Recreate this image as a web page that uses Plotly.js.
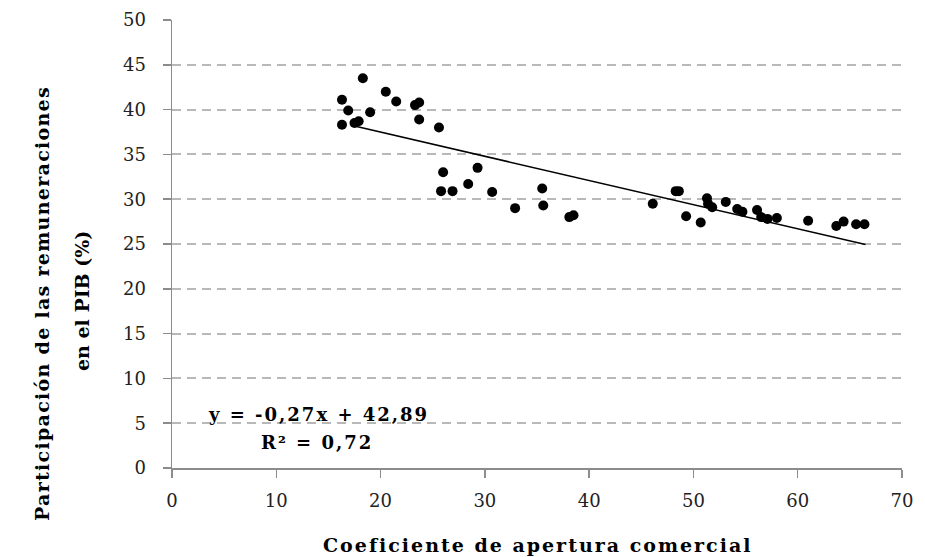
<!DOCTYPE html>
<html>
<head>
<meta charset="utf-8">
<script src="https://cdn.plot.ly/plotly-3.0.1.min.js"></script>
<style>
html,body{margin:0;padding:0;background:#fff;}
#chart{width:925px;height:557px;}
</style>
</head>
<body>
<div id="chart"></div>
<script>
// Data
const apertura = [16.3,16.9,16.3,17.5,17.9,18.3,19.0,20.5,21.5,23.3,23.7,23.7,25.6,26.0,25.8,26.9,28.4,29.3,30.7,32.9,35.5,35.6,38.1,38.5,46.1,48.3,48.6,49.3,50.7,51.3,51.4,51.8,53.1,54.2,54.7,56.1,56.5,57.1,58.0,61.0,63.7,64.4,65.6,66.4];
const remuneraciones = [41.1,39.9,38.3,38.5,38.7,43.5,39.7,42.0,40.9,40.5,40.8,38.9,38.0,33.0,30.9,30.9,31.7,33.5,30.8,29.0,31.2,29.3,28.0,28.2,29.5,30.9,30.9,28.1,27.4,30.1,29.5,29.1,29.7,28.9,28.6,28.8,28.0,27.8,27.9,27.6,27.0,27.5,27.2,27.2];
const trendSlope = -0.27;
const trendIntercept = 42.89;
const trendRange = [17.5, 66.5];
const xTicks = [0,10,20,30,40,50,60,70];
const yTicks = [0,5,10,15,20,25,30,35,40,45,50];
const eqText = "y = -0,27x + 42,89";
const r2Text = "R² = 0,72";
const xTitle = "Coeficiente de apertura comercial";
const yTitle1 = "Participación de las remuneraciones";
const yTitle2 = "en el PIB (%)";

const trendY = trendRange.map(x => trendSlope * x + trendIntercept);

const SERIF = "DejaVu Serif, Liberation Serif, serif";
const spaced = (t, px) => '<span style="letter-spacing:' + px + 'px">' + t + '</span>';

const traces = [
  {
    x: trendRange, y: trendY, type: 'scatter', mode: 'lines',
    line: {color: '#000', width: 1.5}, hoverinfo: 'skip', showlegend: false
  },
  {
    x: apertura, y: remuneraciones, type: 'scatter', mode: 'markers',
    marker: {color: '#000', size: 10}, showlegend: false
  }
];

const layout = {
  width: 925, height: 557,
  margin: {l: 172, r: 23, t: 20, b: 89},
  paper_bgcolor: '#fff', plot_bgcolor: '#fff',
  showlegend: false,
  xaxis: {
    range: [0, 70], tickvals: xTicks, ticktext: xTicks.map(String),
    showgrid: false, zeroline: false,
    showline: true, linecolor: '#8c8c8c', linewidth: 1.5,
    ticks: 'outside', ticklen: 8, tickcolor: '#8c8c8c', tickwidth: 1.5,
    ticklabelstandoff: 8,
    tickfont: {family: SERIF, size: 18, color: '#222'}
  },
  yaxis: {
    range: [0, 50], tickvals: yTicks, ticktext: yTicks.map(String),
    showgrid: true, gridcolor: '#b8b8b8', gridwidth: 2, griddash: '9px,6px',
    zeroline: false,
    showline: true, linecolor: '#8c8c8c', linewidth: 1.5,
    ticks: 'outside', ticklen: 8, tickcolor: '#8c8c8c', tickwidth: 1.5,
    ticklabelstandoff: 13,
    tickfont: {family: SERIF, size: 18, color: '#222'}
  },
  annotations: [
    {text: spaced(eqText, 2), xref: 'x', yref: 'y', x: 14.0, y: 6.0, showarrow: false,
     xanchor: 'center', yanchor: 'middle',
     font: {family: SERIF, size: 18, color: '#000', weight: 'bold'}},
    {text: spaced(r2Text, 2), xref: 'x', yref: 'y', x: 13.9, y: 2.8, showarrow: false,
     xanchor: 'center', yanchor: 'middle',
     font: {family: SERIF, size: 18, color: '#000', weight: 'bold'}},
    {text: spaced(xTitle, 2), xref: 'paper', yref: 'paper', x: 0.5, y: -77/448, showarrow: false,
     xanchor: 'center', yanchor: 'middle',
     font: {family: SERIF, size: 19, color: '#000', weight: 'bold'}},
    {text: spaced(yTitle1, 1.3), xref: 'paper', yref: 'paper', x: (42-172)/730, y: (468-304)/448,
     showarrow: false, textangle: -90, xanchor: 'center', yanchor: 'middle',
     font: {family: SERIF, size: 19, color: '#000', weight: 'bold'}},
    {text: yTitle2, xref: 'paper', yref: 'paper', x: (82-172)/730, y: (468-301)/448,
     showarrow: false, textangle: -90, xanchor: 'center', yanchor: 'middle',
     font: {family: SERIF, size: 19, color: '#000', weight: 'bold'}}
  ]
};

Plotly.newPlot('chart', traces, layout, {displayModeBar: false, staticPlot: true});
</script>
</body>
</html>
